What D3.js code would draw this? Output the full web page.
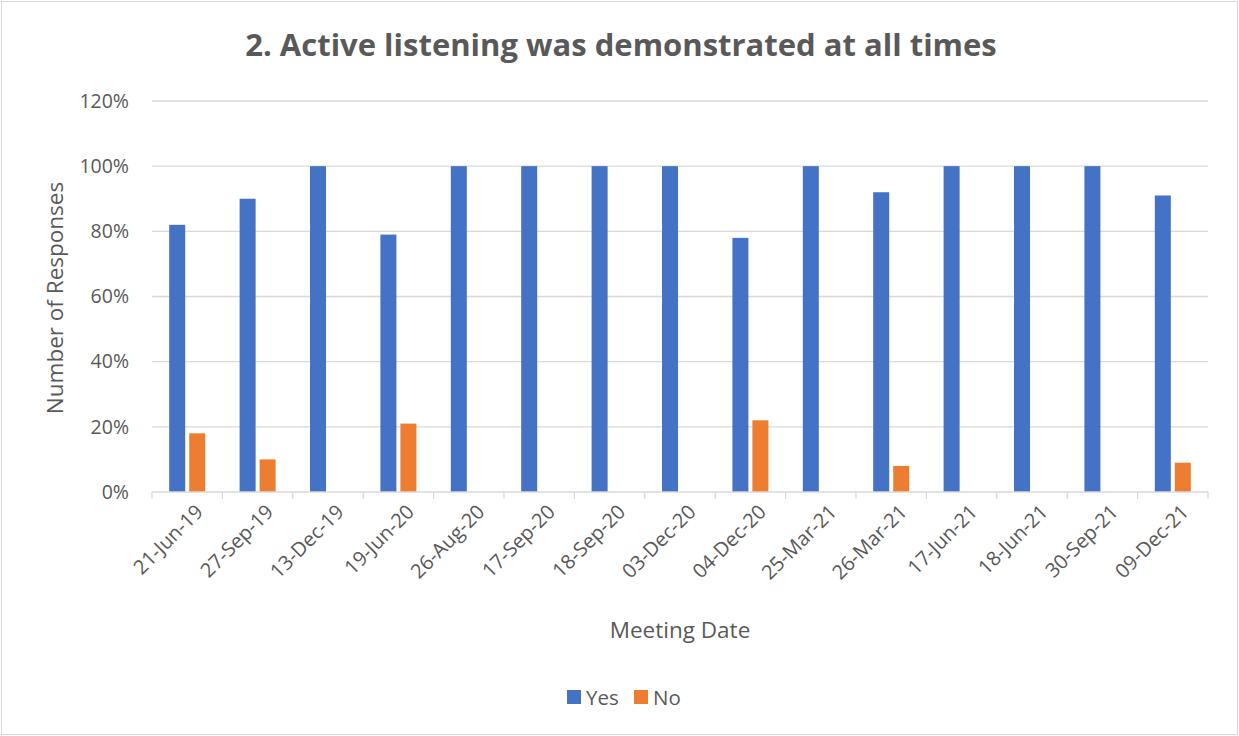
<!DOCTYPE html>
<html>
<head>
<meta charset="utf-8">
<script src="https://cdn.jsdelivr.net/npm/d3@7"></script>
<style>
  html, body { margin: 0; padding: 0; background: #fff; }
  svg { display: block; }
  text { font-family: "Open Sans", "Noto Sans", "Liberation Sans", sans-serif; }
</style>
</head>
<body>
<svg id="chart" width="1239" height="736"></svg>
<script>
// Meeting dates (categories)
const dates = ["21-Jun-19", "27-Sep-19", "13-Dec-19", "19-Jun-20", "26-Aug-20",
  "17-Sep-20", "18-Sep-20", "03-Dec-20", "04-Dec-20", "25-Mar-21",
  "26-Mar-21", "17-Jun-21", "18-Jun-21", "30-Sep-21", "09-Dec-21"];
// Share of responses (%)
const yesValues = [82, 90, 100, 79, 100, 100, 100, 100, 78, 100, 92, 100, 100, 100, 91];
const noValues  = [18, 10, 0, 21, 0, 0, 0, 0, 22, 0, 8, 0, 0, 0, 9];
const seriesNames = ["Yes", "No"];
const seriesColors = ["#4472C4", "#ED7D31"];
const yTicks = [0, 20, 40, 60, 80, 100, 120];

const svg = d3.select("#chart");
const W = 1239, H = 736;
const m = { left: 152, right: 1208, top: 101, bottom: 492 };

// chart frame
svg.append("rect").attr("x", 1.5).attr("y", 1.5).attr("width", W - 3).attr("height", H - 3)
  .attr("fill", "#fff").attr("stroke", "#d9d9d9").attr("stroke-width", 1);

const x = d3.scaleBand().domain(dates).range([m.left, m.right]).paddingInner(0).paddingOuter(0);
const y = d3.scaleLinear().domain([0, 120]).range([m.bottom, m.top]);

// horizontal gridlines
svg.append("g").selectAll("line").data(yTicks.filter(t => t > 0)).join("line")
  .attr("x1", m.left).attr("x2", m.right)
  .attr("y1", d => y(d)).attr("y2", d => y(d))
  .attr("stroke", "#d9d9d9").attr("stroke-width", 1.3);

// y axis labels
const yAxis = d3.axisLeft(y).tickValues(yTicks).tickFormat(d => d + "%").tickSize(0).tickPadding(23);
const gy = svg.append("g").attr("transform", `translate(${m.left},0)`).call(yAxis);
gy.select(".domain").remove();
gy.selectAll("text").attr("fill", "#595959").style("font-size", "19.5px")
  .style("font-family", "'Open Sans', sans-serif");

// bars: two series clustered in each band
const bw = 16, gap = 4;
const sub = d3.scaleOrdinal().domain(seriesNames).range([-(bw + gap / 2), gap / 2]);
const rows = dates.map((d, i) => ({ date: d, values: [yesValues[i], noValues[i]] }));
const groups = svg.append("g").selectAll("g").data(rows).join("g")
  .attr("transform", d => `translate(${x(d.date) + x.bandwidth() / 2},0)`);
groups.selectAll("rect").data(d => d.values.map((v, k) => ({ k, v }))).join("rect")
  .filter(d => d.v > 0)
  .attr("x", d => sub(seriesNames[d.k]))
  .attr("width", bw)
  .attr("y", d => y(d.v))
  .attr("height", d => y(0) - y(d.v))
  .attr("fill", d => seriesColors[d.k]);

// x axis with tick marks at band boundaries
svg.append("line").attr("x1", m.left).attr("x2", m.right).attr("y1", m.bottom).attr("y2", m.bottom)
  .attr("stroke", "#d9d9d9").attr("stroke-width", 1.3);
const bounds = dates.map(d => x(d)).concat([m.right]);
svg.append("g").selectAll("line").data(bounds).join("line")
  .attr("x1", d => d).attr("x2", d => d).attr("y1", m.bottom).attr("y2", m.bottom + 7)
  .attr("stroke", "#d9d9d9").attr("stroke-width", 1.3);

// rotated date labels
svg.append("g").selectAll("text").data(dates).join("text")
  .attr("transform", d => `translate(${x(d) + x.bandwidth() / 2 + 7},${m.bottom + 11}) rotate(-45)`)
  .attr("text-anchor", "end")
  .attr("dy", "0.71em")
  .attr("fill", "#595959").style("font-size", "20px")
  .text(d => d);

// title
svg.append("text").attr("x", 621).attr("y", 56).attr("text-anchor", "middle")
  .attr("fill", "#595959").style("font-size", "31px").style("font-weight", "bold")
  .text("2. Active listening was demonstrated at all times");

// axis titles
svg.append("text").attr("transform", "translate(63,298) rotate(-90)").attr("text-anchor", "middle")
  .attr("fill", "#595959").style("font-size", "22.5px").text("Number of Responses");
svg.append("text").attr("x", 680).attr("y", 638).attr("text-anchor", "middle")
  .attr("fill", "#595959").style("font-size", "22.5px").text("Meeting Date");

// legend
const legend = svg.append("g").attr("transform", "translate(567,690)");
const items = legend.selectAll("g").data(seriesNames).join("g")
  .attr("transform", (d, i) => `translate(${i * 67},0)`);
items.append("rect").attr("width", 14).attr("height", 14).attr("fill", (d, i) => seriesColors[i]);
items.append("text").attr("x", 19).attr("y", 15).attr("fill", "#595959").style("font-size", "20.5px").text(d => d);
</script>
</body>
</html>
